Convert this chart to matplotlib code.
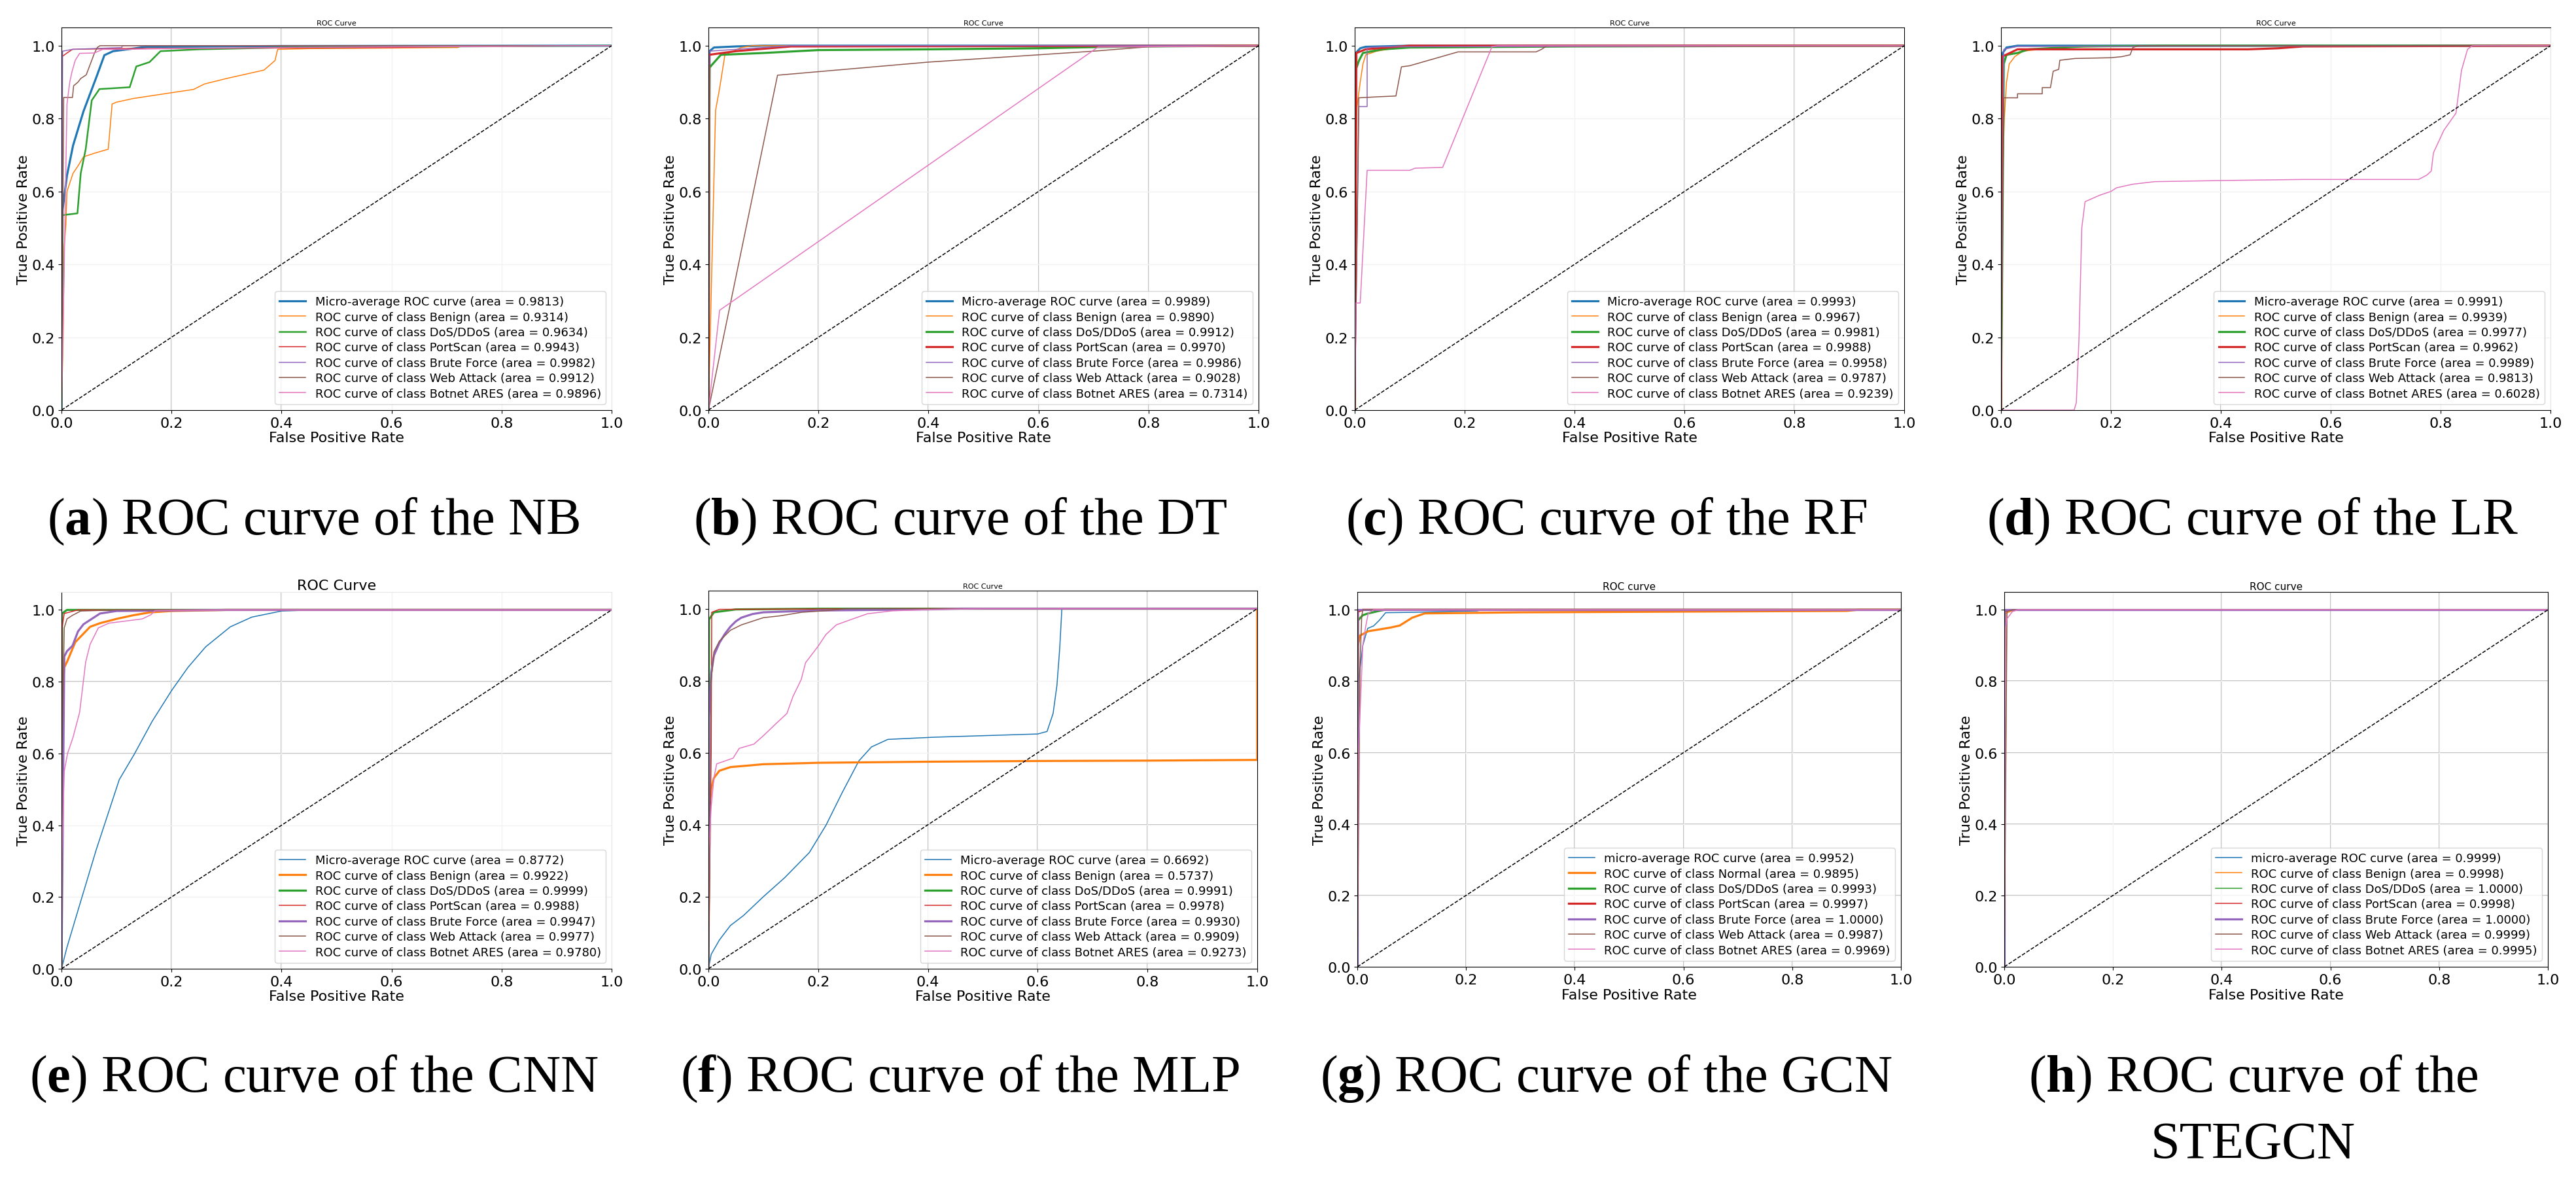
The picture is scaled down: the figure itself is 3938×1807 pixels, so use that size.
import matplotlib
matplotlib.use("Agg")
import matplotlib.pyplot as plt

plt.rcParams['font.family'] = ['DejaVu Sans']
plt.rcParams['mathtext.fontset'] = 'custom'
plt.rcParams['mathtext.rm'] = 'Liberation Serif'
plt.rcParams['mathtext.bf'] = 'Liberation Serif:bold'

W, H = 3938, 1808
COLORS = ['#1f77b4', '#ff7f0e', '#2ca02c', '#d62728', '#9467bd', '#8c564b', '#e377c2']

# ---------------- data ----------------
class_names = ['Benign', 'DoS/DDoS', 'PortScan', 'Brute Force', 'Web Attack', 'Botnet ARES']
class_names_g = ['Normal', 'DoS/DDoS', 'PortScan', 'Brute Force', 'Web Attack', 'Botnet ARES']

panel_letters = ['a', 'b', 'c', 'd', 'e', 'f', 'g', 'h']
model_names = ['NB', 'DT', 'RF', 'LR', 'CNN', 'MLP', 'GCN', 'STEGCN']
panel_titles = ['ROC Curve', 'ROC Curve', 'ROC Curve', 'ROC Curve',
                'ROC Curve', 'ROC Curve', 'ROC curve', 'ROC curve']

areas_nb = [0.9813, 0.9314, 0.9634, 0.9943, 0.9982, 0.9912, 0.9896]
areas_dt = [0.9989, 0.9890, 0.9912, 0.9970, 0.9986, 0.9028, 0.7314]
areas_rf = [0.9993, 0.9967, 0.9981, 0.9988, 0.9958, 0.9787, 0.9239]
areas_lr = [0.9991, 0.9939, 0.9977, 0.9962, 0.9989, 0.9813, 0.6028]
areas_cnn = [0.8772, 0.9922, 0.9999, 0.9988, 0.9947, 0.9977, 0.9780]
areas_mlp = [0.6692, 0.5737, 0.9991, 0.9978, 0.9930, 0.9909, 0.9273]
areas_gcn = [0.9952, 0.9895, 0.9993, 0.9997, 1.0000, 0.9987, 0.9969]
areas_stegcn = [0.9999, 0.9998, 1.0000, 0.9998, 1.0000, 0.9999, 0.9995]

# curves: micro, then 6 classes; each a list of (fpr, tpr)
curves_nb = [
    [(0, 0), (0.002, 0.55), (0.01, 0.644), (0.021, 0.726), (0.04, 0.82), (0.063, 0.912), (0.078, 0.974), (0.094, 0.985), (0.155, 0.997), (0.4, 0.999), (1, 1)],
    [(0, 0), (0.003, 0.2), (0.005, 0.45), (0.008, 0.51), (0.01, 0.6), (0.021, 0.65), (0.03, 0.67), (0.04, 0.695), (0.06, 0.705), (0.085, 0.716), (0.092, 0.84), (0.1, 0.845), (0.13, 0.855), (0.2, 0.871), (0.24, 0.88), (0.26, 0.895), (0.3, 0.91), (0.368, 0.933), (0.388, 0.959), (0.393, 0.99), (0.45, 0.992), (0.72, 0.995), (0.73, 1.0), (1, 1)],
    [(0, 0), (0.002, 0.535), (0.029, 0.54), (0.035, 0.65), (0.044, 0.716), (0.055, 0.85), (0.069, 0.881), (0.124, 0.886), (0.136, 0.943), (0.15, 0.95), (0.16, 0.955), (0.17, 0.97), (0.18, 0.985), (0.25, 0.99), (0.4, 0.995), (0.6, 0.997), (1, 1)],
    [(0, 0), (0.001, 0.97), (0.01, 0.98), (0.02, 0.99), (0.1, 0.992), (0.6, 0.995), (0.72, 0.998), (1, 1)],
    [(0, 0), (0.002, 0.985), (0.02, 0.99), (0.11, 0.995), (0.11, 1.0), (1, 1)],
    [(0, 0), (0.004, 0.858), (0.02, 0.858), (0.022, 0.89), (0.03, 0.9), (0.035, 0.91), (0.045, 0.92), (0.05, 0.94), (0.055, 0.96), (0.06, 0.98), (0.065, 0.995), (0.07, 1.0), (1, 1)],
    [(0, 0), (0.005, 0.4), (0.01, 0.84), (0.015, 0.9), (0.019, 0.928), (0.025, 0.96), (0.033, 0.979), (0.06, 0.98), (0.075, 0.99), (0.11, 0.99), (0.2, 0.992), (0.4, 0.995), (1, 1)],
]
curves_dt = [
    [(0, 0), (0.002, 0.985), (0.01, 0.995), (0.05, 0.998), (0.1, 1.0), (1, 1)],
    [(0, 0), (0.013, 0.823), (0.02, 0.88), (0.03, 0.975), (0.06, 0.995), (0.08, 1.0), (1, 1)],
    [(0, 0), (0.002, 0.94), (0.0226, 0.975), (0.1, 0.98), (0.2, 0.988), (0.4, 0.99), (0.6, 0.993), (0.7, 0.996), (0.8, 0.998), (1, 1)],
    [(0, 0), (0.001, 0.975), (0.05, 0.985), (0.15, 0.998), (1, 1)],
    [(0, 0), (0.001, 0.985), (0.15, 1.0), (1, 1)],
    [(0, 0), (0.1256, 0.919), (0.4, 0.955), (0.6, 0.975), (0.7, 0.985), (0.8, 0.997), (1, 1)],
    [(0, 0), (0.0203, 0.274), (0.708, 0.996), (1, 1)],
]
curves_rf = [
    [(0, 0), (0.002, 0.98), (0.01, 0.993), (0.02, 0.997), (0.1, 1.0), (1, 1)],
    [(0, 0), (0.002, 0.6), (0.004, 0.83), (0.01, 0.9), (0.015, 0.95), (0.02, 0.975), (0.04, 0.985), (0.08, 0.995), (0.4, 1.0), (1, 1)],
    [(0, 0), (0.001, 0.93), (0.008, 0.96), (0.015, 0.98), (0.05, 0.99), (0.1, 0.995), (0.4, 0.998), (1, 1)],
    [(0, 0), (0.003, 0.98), (0.02, 0.99), (0.1, 1.0), (1, 1)],
    [(0, 0), (0.0075, 0.833), (0.0226, 0.833), (0.0226, 0.995), (0.05, 0.997), (1, 1)],
    [(0, 0), (0.0075, 0.857), (0.045, 0.86), (0.075, 0.862), (0.085, 0.942), (0.1, 0.945), (0.188, 0.983), (0.33, 0.983), (0.34, 0.99), (0.35, 1.0), (1, 1)],
    [(0, 0), (0.002, 0.294), (0.01, 0.294), (0.0226, 0.658), (0.1, 0.658), (0.11, 0.664), (0.16, 0.666), (0.25, 0.998), (0.26, 1.0), (1, 1)],
]
curves_lr = [
    [(0, 0), (0.003, 0.98), (0.01, 0.995), (0.03, 1.0), (1, 1)],
    [(0, 0), (0.001, 0.05), (0.003, 0.645), (0.006, 0.8), (0.01, 0.9), (0.015, 0.95), (0.025, 0.97), (0.04, 0.985), (0.1, 0.995), (0.25, 1.0), (1, 1)],
    [(0, 0), (0.005, 0.95), (0.01, 0.975), (0.03, 0.98), (0.05, 0.99), (0.15, 0.998), (0.3, 1.0), (1, 1)],
    [(0, 0), (0.002, 0.97), (0.03, 0.99), (0.45, 0.99), (0.505, 0.993), (0.55, 0.998), (1, 1)],
    [(0, 0), (0.004, 0.827), (0.005, 0.99), (0.03, 0.998), (1, 1)],
    [(0, 0), (0.005, 0.857), (0.03, 0.857), (0.03, 0.868), (0.075, 0.868), (0.075, 0.885), (0.09, 0.885), (0.095, 0.93), (0.105, 0.935), (0.107, 0.96), (0.135, 0.965), (0.2, 0.967), (0.22, 0.97), (0.235, 0.975), (0.24, 0.995), (0.25, 1.0), (1, 1)],
    [(0, 0), (0.133, 0.0), (0.137, 0.02), (0.142, 0.2), (0.147, 0.5), (0.153, 0.572), (0.165, 0.58), (0.18, 0.59), (0.2, 0.6), (0.21, 0.61), (0.24, 0.62), (0.28, 0.627), (0.4, 0.63), (0.55, 0.633), (0.76, 0.633), (0.775, 0.645), (0.783, 0.656), (0.787, 0.706), (0.806, 0.768), (0.828, 0.815), (0.838, 0.932), (0.849, 0.99), (0.858, 1.0), (1, 1)],
]
curves_cnn = [
    [(0, 0), (0.01, 0.06), (0.033, 0.178), (0.063, 0.331), (0.105, 0.527), (0.132, 0.597), (0.165, 0.69), (0.2, 0.775), (0.23, 0.84), (0.262, 0.897), (0.307, 0.953), (0.346, 0.98), (0.4, 0.997), (0.46, 1.0), (1, 1)],
    [(0, 0), (0.002, 0.78), (0.005, 0.84), (0.01, 0.855), (0.025, 0.91), (0.052, 0.953), (0.07, 0.963), (0.1, 0.975), (0.13, 0.985), (0.16, 0.993), (0.2, 0.997), (0.3, 1.0), (1, 1)],
    [(0, 0), (0.001, 0.99), (0.01, 1.0), (1, 1)],
    [(0, 0), (0.001, 0.95), (0.005, 0.99), (0.03, 1.0), (1, 1)],
    [(0, 0), (0.005, 0.87), (0.01, 0.885), (0.02, 0.9), (0.03, 0.94), (0.04, 0.96), (0.055, 0.975), (0.07, 0.99), (0.1, 0.997), (0.3, 1.0), (1, 1)],
    [(0, 0), (0.001, 0.62), (0.005, 0.95), (0.01, 0.975), (0.02, 0.985), (0.035, 0.997), (0.1, 1.0), (1, 1)],
    [(0, 0), (0.001, 0.32), (0.005, 0.55), (0.011, 0.6), (0.021, 0.645), (0.033, 0.715), (0.044, 0.855), (0.052, 0.904), (0.067, 0.95), (0.086, 0.963), (0.147, 0.975), (0.163, 0.987), (0.17, 0.998), (0.3, 1.0), (1, 1)],
]
curves_mlp = [
    [(0, 0), (0.005, 0.04), (0.02, 0.08), (0.04, 0.12), (0.064, 0.148), (0.1, 0.2), (0.139, 0.253), (0.184, 0.323), (0.214, 0.398), (0.244, 0.49), (0.274, 0.577), (0.297, 0.616), (0.327, 0.637), (0.41, 0.643), (0.6, 0.652), (0.617, 0.659), (0.628, 0.709), (0.635, 0.787), (0.64, 0.888), (0.644, 1.0), (1, 1)],
    [(0, 0), (0.002, 0.45), (0.005, 0.5), (0.01, 0.53), (0.02, 0.55), (0.04, 0.56), (0.1, 0.568), (0.2, 0.572), (0.4, 0.575), (0.6, 0.577), (0.8, 0.578), (1.0, 0.58), (1.0, 1.0)],
    [(0, 0), (0.001, 0.97), (0.01, 0.99), (0.05, 0.998), (0.2, 1.0), (1, 1)],
    [(0, 0), (0.005, 0.6), (0.006, 0.99), (0.02, 0.998), (0.35, 1.0), (1, 1)],
    [(0, 0), (0.001, 0.7), (0.005, 0.82), (0.01, 0.87), (0.02, 0.905), (0.03, 0.93), (0.04, 0.95), (0.05, 0.965), (0.06, 0.975), (0.08, 0.985), (0.1, 0.99), (0.2, 0.995), (0.4, 0.998), (0.46, 1.0), (1, 1)],
    [(0, 0), (0.002, 0.2), (0.005, 0.8), (0.01, 0.88), (0.02, 0.91), (0.04, 0.94), (0.06, 0.955), (0.08, 0.965), (0.1, 0.975), (0.13, 0.98), (0.17, 0.99), (0.22, 0.995), (0.25, 1.0), (1, 1)],
    [(0, 0), (0.001, 0.33), (0.005, 0.45), (0.01, 0.53), (0.015, 0.569), (0.045, 0.585), (0.056, 0.612), (0.083, 0.624), (0.1, 0.647), (0.124, 0.682), (0.143, 0.709), (0.154, 0.756), (0.169, 0.803), (0.177, 0.85), (0.2, 0.896), (0.214, 0.928), (0.233, 0.955), (0.26, 0.97), (0.29, 0.986), (0.335, 0.994), (0.41, 0.998), (0.5, 1.0), (1, 1)],
]
curves_gcn = [
    [(0, 0), (0.001, 0.4), (0.002, 0.797), (0.01, 0.9), (0.019, 0.948), (0.03, 0.955), (0.04, 0.97), (0.052, 0.992), (0.1, 0.993), (0.22, 0.997), (0.23, 1.0), (1, 1)],
    [(0, 0), (0.001, 0.9), (0.005, 0.928), (0.02, 0.94), (0.04, 0.945), (0.06, 0.95), (0.078, 0.956), (0.101, 0.978), (0.124, 0.99), (0.3, 0.993), (0.9, 0.997), (0.92, 1.0), (1, 1)],
    [(0, 0), (0.001, 0.97), (0.01, 0.985), (0.02, 0.99), (0.04, 0.997), (0.05, 1.0), (1, 1)],
    [(0, 0), (0.001, 0.995), (0.01, 1.0), (1, 1)],
    [(0, 0), (0.0, 1.0), (1, 1)],
    [(0, 0), (0.005, 0.85), (0.008, 0.98), (0.01, 1.0), (1, 1)],
    [(0, 0), (0.002, 0.6), (0.01, 0.9), (0.015, 0.95), (0.02, 0.99), (0.03, 1.0), (1, 1)],
]
curves_stegcn = [
    [(0, 0), (0.001, 0.995), (0.01, 1.0), (1, 1)],
    [(0, 0), (0.002, 0.99), (0.02, 1.0), (1, 1)],
    [(0, 0), (0.0, 1.0), (1, 1)],
    [(0, 0), (0.002, 0.995), (0.01, 1.0), (1, 1)],
    [(0, 0), (0.0, 1.0), (1, 1)],
    [(0, 0), (0.005, 0.995), (0.015, 1.0), (1, 1)],
    [(0, 0), (0.002, 0.95), (0.005, 0.975), (0.01, 0.985), (0.015, 0.995), (0.025, 1.0), (1, 1)],
]

all_curves = [curves_nb, curves_dt, curves_rf, curves_lr, curves_cnn, curves_mlp, curves_gcn, curves_stegcn]
all_areas = [areas_nb, areas_dt, areas_rf, areas_lr, areas_cnn, areas_mlp, areas_gcn, areas_stegcn]

# ---------------- styling ----------------
# axes pixel boxes: left, right, top, bottom
boxes = [(94, 935, 43, 628), (1083, 1924, 43, 628), (2071, 2911, 43, 628), (3059, 3899, 43, 628),
         (94, 935, 906, 1482), (1083, 1922, 904, 1482), (2075, 2906, 906, 1479), (3064, 3895, 906, 1479)]
THICK, THIN = 2.3, 1.1
widths = [
    [THICK, THIN, 1.8, THIN, THIN, THIN, THIN],
    [THICK, THIN, THICK, THICK, THIN, THIN, THIN],
    [THICK, THIN, THICK, THICK, THIN, THIN, THIN],
    [THICK, THIN, THICK, THICK, THIN, THIN, THIN],
    [THIN, THICK, THICK, THIN, THICK, THIN, THIN],
    [THIN, THICK, THICK, THIN, THICK, THIN, THIN],
    [THIN, THICK, THICK, THICK, THICK, THIN, THIN],
    [THIN, THIN, THIN, THIN, THICK, THIN, THIN],
]
dark_v = [[0.2, 0.4], [0.2, 0.4, 0.6, 0.8], [0.6, 0.8], [0.2, 0.4],
          [0.2, 0.4], [0.2, 0.4, 0.6, 0.8], [0.2, 0.4, 0.6, 0.8], [0.4, 0.6, 0.8]]
dark_h = [[], [], [], [], [0.6, 0.8], [0.4], [0.2, 0.4, 0.6, 0.8], [0.2, 0.4, 0.6, 0.8]]
title_sizes = [8, 8, 8, 8, 16, 8, 11, 11]
right_spine = ['#e6e6e6', 'black', 'black', '#e6e6e6', '#e6e6e6', 'black', 'black', 'black']
top_spine = ['black', 'black', 'black', 'black', '#e6e6e6', 'black', 'black', 'black']

fig = plt.figure(figsize=(W / 100, H / 100), dpi=100)

for i in range(8):
    l, r, t, b = boxes[i]
    ax = fig.add_axes([l / W, 1 - b / H, (r - l) / W, (b - t) / H])
    ax.grid(True, color='#f2f2f2', lw=1.0)
    ax.set_axisbelow(True)
    for v in dark_v[i]:
        ax.axvline(v, color='#b0b0b0', lw=1.3, zorder=0.5)
    for h in dark_h[i]:
        ax.axhline(h, color='#b0b0b0', lw=1.3, zorder=0.5)

    names = class_names_g if i == 6 else class_names
    micro = 'micro-average' if i >= 6 else 'Micro-average'
    labels = ['%s ROC curve (area = %.4f)' % (micro, all_areas[i][0])]
    labels += ['ROC curve of class %s (area = %.4f)' % (n, a) for n, a in zip(names, all_areas[i][1:])]

    for k, pts in enumerate(all_curves[i]):
        xs = [p[0] for p in pts]
        ys = [p[1] for p in pts]
        ax.plot(xs, ys, color=COLORS[k], lw=widths[i][k], label=labels[k])
    ax.plot([0, 1], [0, 1], 'k--', lw=1.1)

    ax.set_xlim(0, 1.0)
    ax.set_ylim(0, 1.05)
    ax.set_xticks([0, 0.2, 0.4, 0.6, 0.8, 1.0])
    ax.set_yticks([0, 0.2, 0.4, 0.6, 0.8, 1.0])
    ax.tick_params(labelsize=16)
    ax.set_xlabel('False Positive Rate', fontsize=16, labelpad=2)
    ax.set_ylabel('True Positive Rate', fontsize=16, labelpad=2)
    ax.set_title(panel_titles[i], fontsize=title_sizes[i], pad=3)
    ax.spines['right'].set_color(right_spine[i])
    ax.spines['top'].set_color(top_spine[i])
    ax.legend(loc='lower right', fontsize=13, labelspacing=0.3, handlelength=2.2,
              borderaxespad=0.5)

    cx = (l + r) / 2 - 35
    if i < 4:
        cy = 797
    else:
        cy = 1649
    if i == 7:
        fig.text(cx / W, 1 - cy / H, r'($\mathbf{%s}$) ROC curve of the' % panel_letters[i],
                 ha='center', va='center', fontsize=58, family='Liberation Serif')
        fig.text(cx / W, 1 - 1752 / H, model_names[i],
                 ha='center', va='center', fontsize=58, family='Liberation Serif')
    else:
        fig.text(cx / W, 1 - cy / H, r'($\mathbf{%s}$) ROC curve of the %s' % (panel_letters[i], model_names[i]),
                 ha='center', va='center', fontsize=58, family='Liberation Serif')

fig.savefig('out.png', dpi=100)
